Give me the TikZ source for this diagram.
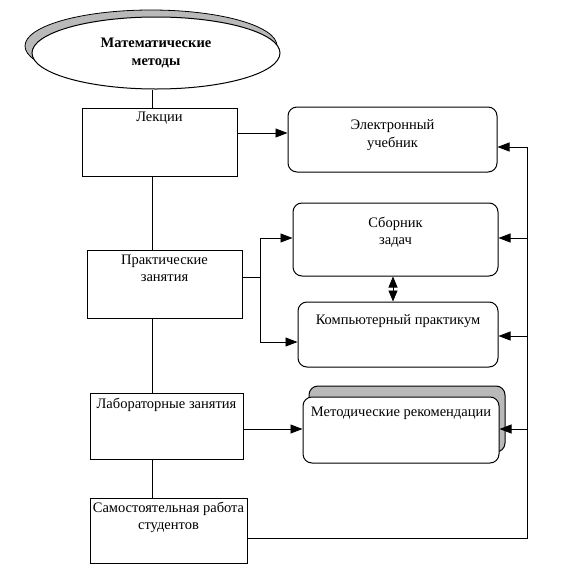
\documentclass[tikz,border=0pt]{standalone}
\usepackage{fontspec}
\setmainfont{Liberation Serif}
\usetikzlibrary{shapes.geometric,arrows.meta,calc}
\begin{document}
\begin{tikzpicture}[x=1pt,y=-1pt,
  font=\fontsize{14.5}{17.5}\selectfont,
  line width=0.8pt,
  sqbox/.style={draw, rectangle, inner sep=0pt},
  rbox/.style={draw, rectangle, rounded corners=9pt, inner sep=0pt, fill=white, line width=1pt},
  shade/.style={draw, fill=gray!55},
  arr/.style={-{Triangle[length=12pt,width=9pt]}},
  darr/.style={{Triangle[length=11pt,width=9pt]}-{Triangle[length=11pt,width=9pt]}},
  lbl/.style={anchor=north, align=center, inner sep=0pt}
]
\useasboundingbox (0,0) rectangle (563,579);

% title ellipse with shadow
\node[shade, ellipse, minimum width=252, minimum height=72] (titleshadow) at (151,46) {};
\node[draw, ellipse, fill=white, minimum width=248, minimum height=72, line width=1pt,
      align=center, font=\fontsize{14.5}{17.5}\selectfont\bfseries] (title) at (156,53)
      {Математические\\методы};

% left column boxes
\node[sqbox, minimum width=155, minimum height=68,
      label={[lbl, yshift=-4pt]north:Лекции}] (lek) at (159.5,142) {};
\node[sqbox, minimum width=155, minimum height=68,
      label={[lbl, yshift=-5pt]north:Практические\\занятия}] (prak) at (164.5,284) {};
\node[sqbox, minimum width=153, minimum height=66,
      label={[lbl, yshift=-5pt]north:Лабораторные занятия}] (lab) at (166.5,426) {};
\node[sqbox, minimum width=157, minimum height=65,
      label={[lbl, yshift=-4pt]north:Самостоятельная работа\\студентов}] (sam) at (168.5,530.5) {};

% right column boxes
\node[rbox, minimum width=209, minimum height=65,
      label={[lbl, yshift=-13pt]north:Электронный\\учебник}] (el) at (392.5,139.5) {};
\node[rbox, minimum width=205, minimum height=73,
      label={[lbl, yshift=-14pt]north:Сборник\\задач}] (sb) at (395.5,239.5) {};
\node[rbox, minimum width=200, minimum height=65,
      label={[lbl, yshift=-13pt]north:Компьютерный практикум}] (komp) at (398,334.5) {};
\node[rbox, shade, minimum width=196, minimum height=66] (metshadow) at (407,419) {};
\node[rbox, minimum width=196, minimum height=66,
      label={[lbl, yshift=-10pt]north:Методические рекомендации}] (met) at (401,430) {};

% spine coordinates
\coordinate (spine) at (152,92);
\coordinate (rtop) at (527,147);
\coordinate (rbot) at (527,538);
\coordinate (fork) at (260,277);

% left spine
\draw (spine |- title.south) -- (spine |- lek.north);
\draw (spine |- lek.south) -- (spine |- prak.north);
\draw (spine |- prak.south) -- (spine |- lab.north);
\draw (spine |- lab.south) -- (spine |- sam.north);

% Лекции -> Электронный
\draw[arr] ($(lek.east)+(0,-9)$) -- ($(el.west)+(0,-6.5)$);

% Практические fork
\draw (prak.east |- fork) -- (fork);
\draw[arr] (fork) |- ($(sb.west)+(0,-1.5)$);
\draw[arr] (fork) |- ($(komp.west)+(0,7.5)$);

% Сборник <-> Компьютерный
\draw[darr] (sb.south -| 393,0) -- (komp.north -| 393,0);

% Лабораторные -> Методические
\draw[arr] ($(lab.east)+(0,3)$) -- ($(met.west)+(0,-1)$);

% right feedback line
\draw (sam.east |- rbot) -- (rbot) -- (rtop);
\draw[arr] (rtop) -- (el.east |- rtop);
\draw[arr] ($(rtop |- sb.east)+(0,-1.5)$) -- ($(sb.east)+(0,-1.5)$);
\draw[arr] ($(rtop |- komp.east)+(0,1.5)$) -- ($(komp.east)+(0,1.5)$);
\draw[arr] ($(rtop |- met.east)+(0,-1)$) -- ($(met.east)+(0,-1)$);
\end{tikzpicture}
\end{document}
